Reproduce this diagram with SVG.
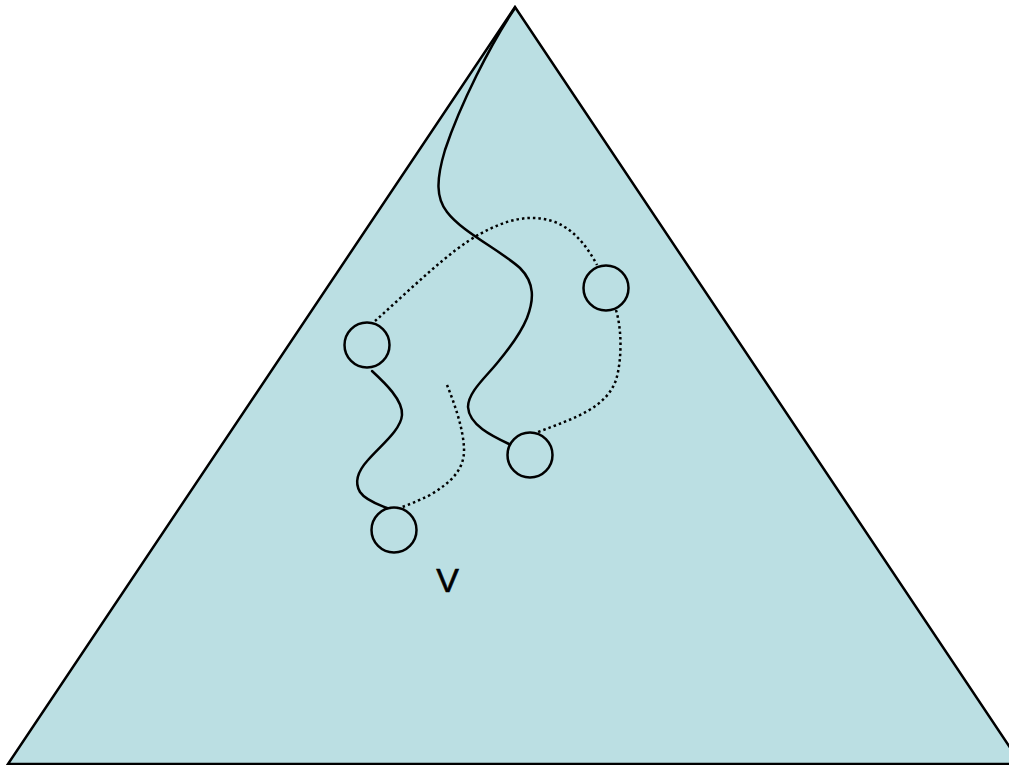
<svg xmlns="http://www.w3.org/2000/svg" width="1009" height="765" viewBox="0 0 1009 765">
<style>
.tri{fill:#bbdfe3;stroke:#000;stroke-width:2.5;stroke-linejoin:miter}
.node{fill:none;stroke:#000;stroke-width:2.5}
.solid{fill:none;stroke:#000;stroke-width:2.5;stroke-linecap:round}
.dot{fill:none;stroke:#000;stroke-width:2.5;stroke-dasharray:2.5 3}
.lbl{font-family:"Liberation Sans",Arial,sans-serif;font-size:34px;fill:#000;stroke:#000;stroke-width:0.6}
</style>
<g id="triangle"><polygon class="tri" points="515,7 8,764 1021,764"/></g>
<g id="connectors">
<path class="solid" d="M515,8 C490,45 460,105 445,150 C436,180 436,198 447,212 C462,232 500,250 520,268 C535,283 534,300 527,318 C520,335 508,350 498,362 C486,377 468,392 468,407 C469,425 492,436 509,444"/>
<path class="solid" d="M372,371 C385,383 403,400 402,415 C401,430 380,446 368,460 C358,471 354,482 360,492 C366,501 380,505 387,508"/>
<path class="dot" d="M375,321 C410,290 450,250 480,234 C505,220 530,213 555,222 C575,230 588,248 597,265"/>
<path class="dot" d="M616,310 C622,330 622,360 616,380 C606,408 575,418 538,432"/>
<path class="dot" d="M447,385 C455,405 463,428 464,448 C465,470 450,483 430,495 C418,501 408,505 402,507"/>
</g>
<g id="n1"><circle class="node" cx="367" cy="345" r="22.5"/></g>
<g id="n2"><circle class="node" cx="606" cy="288" r="22.5"/></g>
<g id="n3"><circle class="node" cx="530" cy="455" r="22.5"/></g>
<g id="n4"><circle class="node" cx="394" cy="530" r="22.5"/></g>
<g id="label-v"><text class="lbl" x="447.5" y="592" text-anchor="middle">V</text></g>
</svg>
